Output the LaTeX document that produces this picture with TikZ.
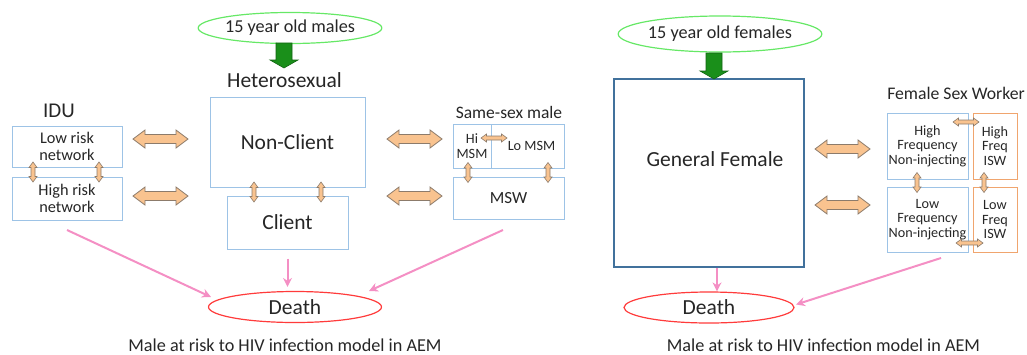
\documentclass[tikz,border=0pt]{standalone}
\usepackage{fontspec}
\setmainfont{Carlito}
\usetikzlibrary{arrows.meta,positioning,shapes.geometric}
\definecolor{boxblue}{HTML}{9DC3E6}
\definecolor{deepblue}{HTML}{41719C}
\definecolor{iswline}{HTML}{F0A56E}
\definecolor{arrowfill}{HTML}{F9C38F}
\definecolor{arrowline}{HTML}{8C7B6B}
\definecolor{birth}{HTML}{66E866}
\definecolor{entry}{HTML}{1A8F1A}
\definecolor{exitpink}{HTML}{F48FC4}
\definecolor{deathred}{HTML}{FF3B3B}
\definecolor{ink}{HTML}{262626}

\tikzset{
 pics/fat/.style={code={\draw[arrowline,fill=arrowfill,line width=0.8pt] (-27.5,0) -- (-15.5,-9) -- (-15.5,-4.5) -- (15.5,-4.5) -- (15.5,-9) -- (27.5,0) -- (15.5,9) -- (15.5,4.5) -- (-15.5,4.5) -- (-15.5,9) -- cycle;}},
 pics/link/.style={code={\draw[arrowline,fill=arrowfill,line width=0.6pt] (-#1,0) -- (-#1+5.5,-4) -- (-#1+5.5,-2) -- (#1-5.5,-2) -- (#1-5.5,-4) -- (#1,0) -- (#1-5.5,4) -- (#1-5.5,2) -- (-#1+5.5,2) -- (-#1+5.5,4) -- cycle;}},
 pics/enter/.style={code={\draw[entry!70!black,fill=entry,line width=0.6pt] (-8,0) -- (8,0) -- (8,#1-8) -- (14,#1-8) -- (0,#1) -- (-14,#1-8) -- (-8,#1-8) -- cycle;}}
}

\begin{document}
\begin{tikzpicture}[x=1pt,y=-1pt,text=ink,
 group/.style={rectangle,draw=boxblue,line width=1pt,inner sep=0pt,align=center},
 isw/.style={group,draw=iswline},
 big/.style={font=\fontsize{21.5}{24}\selectfont},
 small/.style={font=\fontsize{16.3}{16.5}\selectfont},
 tiny/.style={font=\fontsize{14.2}{14.7}\selectfont},
 head/.style={inner sep=0pt,font=\fontsize{17.5}{20}\selectfont},
 oval/.style={ellipse,line width=1.2pt,inner sep=0pt,font=\fontsize{18.2}{20}\selectfont},
 leave/.style={-{Stealth[length=9pt,width=9pt]},line width=2pt,exitpink},
 caption/.style={inner sep=0pt,font=\fontsize{18.2}{20}\selectfont}]
\useasboundingbox (0,0) rectangle (1027,354);

% male side
\node[oval,draw=birth,minimum width=173pt,minimum height=31pt] (males) at (290,28) {15 year old males};
\node[group,big,minimum width=155pt,minimum height=90pt] (nonclient) at (287.5,142) {Non-Client};
\node[group,big,minimum width=121pt,minimum height=53pt] (client) at (287.5,222.5) {Client};
\node[head,big,above=9pt of nonclient,xshift=-3pt] (hetero) {Heterosexual};
\pic (maleentry) at (284,43) {enter=25};

\node[group,small,minimum width=110pt,minimum height=41pt] (lowrisk) at (67,146.5) {Low risk\\network};
\node[group,small,minimum width=110pt,minimum height=43pt] (highrisk) at (67,198.5) {High risk\\network};
\node[head,font=\fontsize{21}{24}\selectfont] (idu) at (59,111) {IDU};

\node[group,tiny,minimum width=38pt,minimum height=44pt] (himsm) at (472,146) {Hi\\MSM};
\node[group,tiny,minimum width=73pt,minimum height=44pt] (lomsm) at (527.5,146) {\hspace*{8pt}Lo MSM};
\node[group,minimum width=111pt,minimum height=42pt,font=\fontsize{17}{20}\selectfont] (msw) at (508.5,198) {MSW};
\node[head] (ssm) at (509,112) {Same-sex male};

\pic (idunc) at (160.5,139) {fat};
\pic (iduc) at (160.5,196) {fat};
\pic (ncssm) at (414.5,139) {fat};
\pic (cssm) at (414.5,196) {fat};

\pic[rotate=90] (iduleft) at (33,172) {link=10};
\pic[rotate=90] (iduright) at (99,172) {link=10};
\pic[rotate=90] (hetleft) at (254,192) {link=10};
\pic[rotate=90] (hetright) at (321,192) {link=10};
\pic[rotate=90] (mswleft) at (468,172.5) {link=10};
\pic[rotate=90] (mswright) at (548,172.5) {link=10};
\pic (himlo) at (494,138) {link=13};

\node[oval,big,draw=deathred,minimum width=173pt,minimum height=31pt] (death) at (295,307) {Death};
\coordinate (iduout) at (67,230);
\coordinate (ssmout) at (503,230);
\draw[leave] (iduout) -- ([shift={(-84,-10)}]death.center);
\draw[leave] ([yshift=-9pt]client.south) -- ([yshift=4pt]client.south |- death.north);
\draw[leave] (ssmout) -- ([shift={(74,-16)}]death.center);
\node[caption] (malecap) at (285,345) {Male at risk to HIV infection model in AEM};

% female side
\node[oval,draw=birth,minimum width=168pt,minimum height=36pt] (females) at (720,34) {15 year old females};
\node[group,draw=deepblue,line width=1.4pt,minimum width=190pt,minimum height=188pt] (genfemale) at (709,173) {};
\node[head,big] (gflabel) at (715,159) {General Female};
\pic (femaleentry) at (714,53) {enter=26};

\node[group,tiny,minimum width=81pt,minimum height=66pt] (hifreq) at (927.5,146) {High\\Frequency\\Non-injecting};
\node[isw,tiny,minimum width=44pt,minimum height=66pt] (hiisw) at (995,146) {High\\Freq\\ISW};
\node[group,tiny,minimum width=81pt,minimum height=65pt] (lofreq) at (927.5,219.5) {Low\\Frequency\\Non-injecting};
\node[isw,tiny,minimum width=44pt,minimum height=65pt] (loisw) at (995,219.5) {Low\\Freq\\ISW};
\node[head,font=\fontsize{17.7}{20}\selectfont] (fsw) at (956,93) {Female Sex Worker};

\pic (gfhi) at (842.5,149) {fat};
\pic (gflo) at (842.5,205) {fat};
\pic (hitop) at (966,122) {link=13};
\pic (lobottom) at (969.5,243) {link=13.5};
\pic[rotate=90] (freqleft) at (917,182.5) {link=10};
\pic[rotate=90] (iswright) at (984,182.5) {link=10};

\node[oval,big,draw=deathred,minimum width=170pt,minimum height=31pt] (death2) at (709,307.5) {Death};
\coordinate (fswout) at (941,258);
\draw[leave] ([xshift=8pt]genfemale.south) -- ([xshift=8pt]death2.north);
\draw[leave] (fswout) -- ([shift={(87,-3)}]death2.center);
\node[caption] (femalecap) at (823.5,345) {Male at risk to HIV infection model in AEM};
\end{tikzpicture}
\end{document}
